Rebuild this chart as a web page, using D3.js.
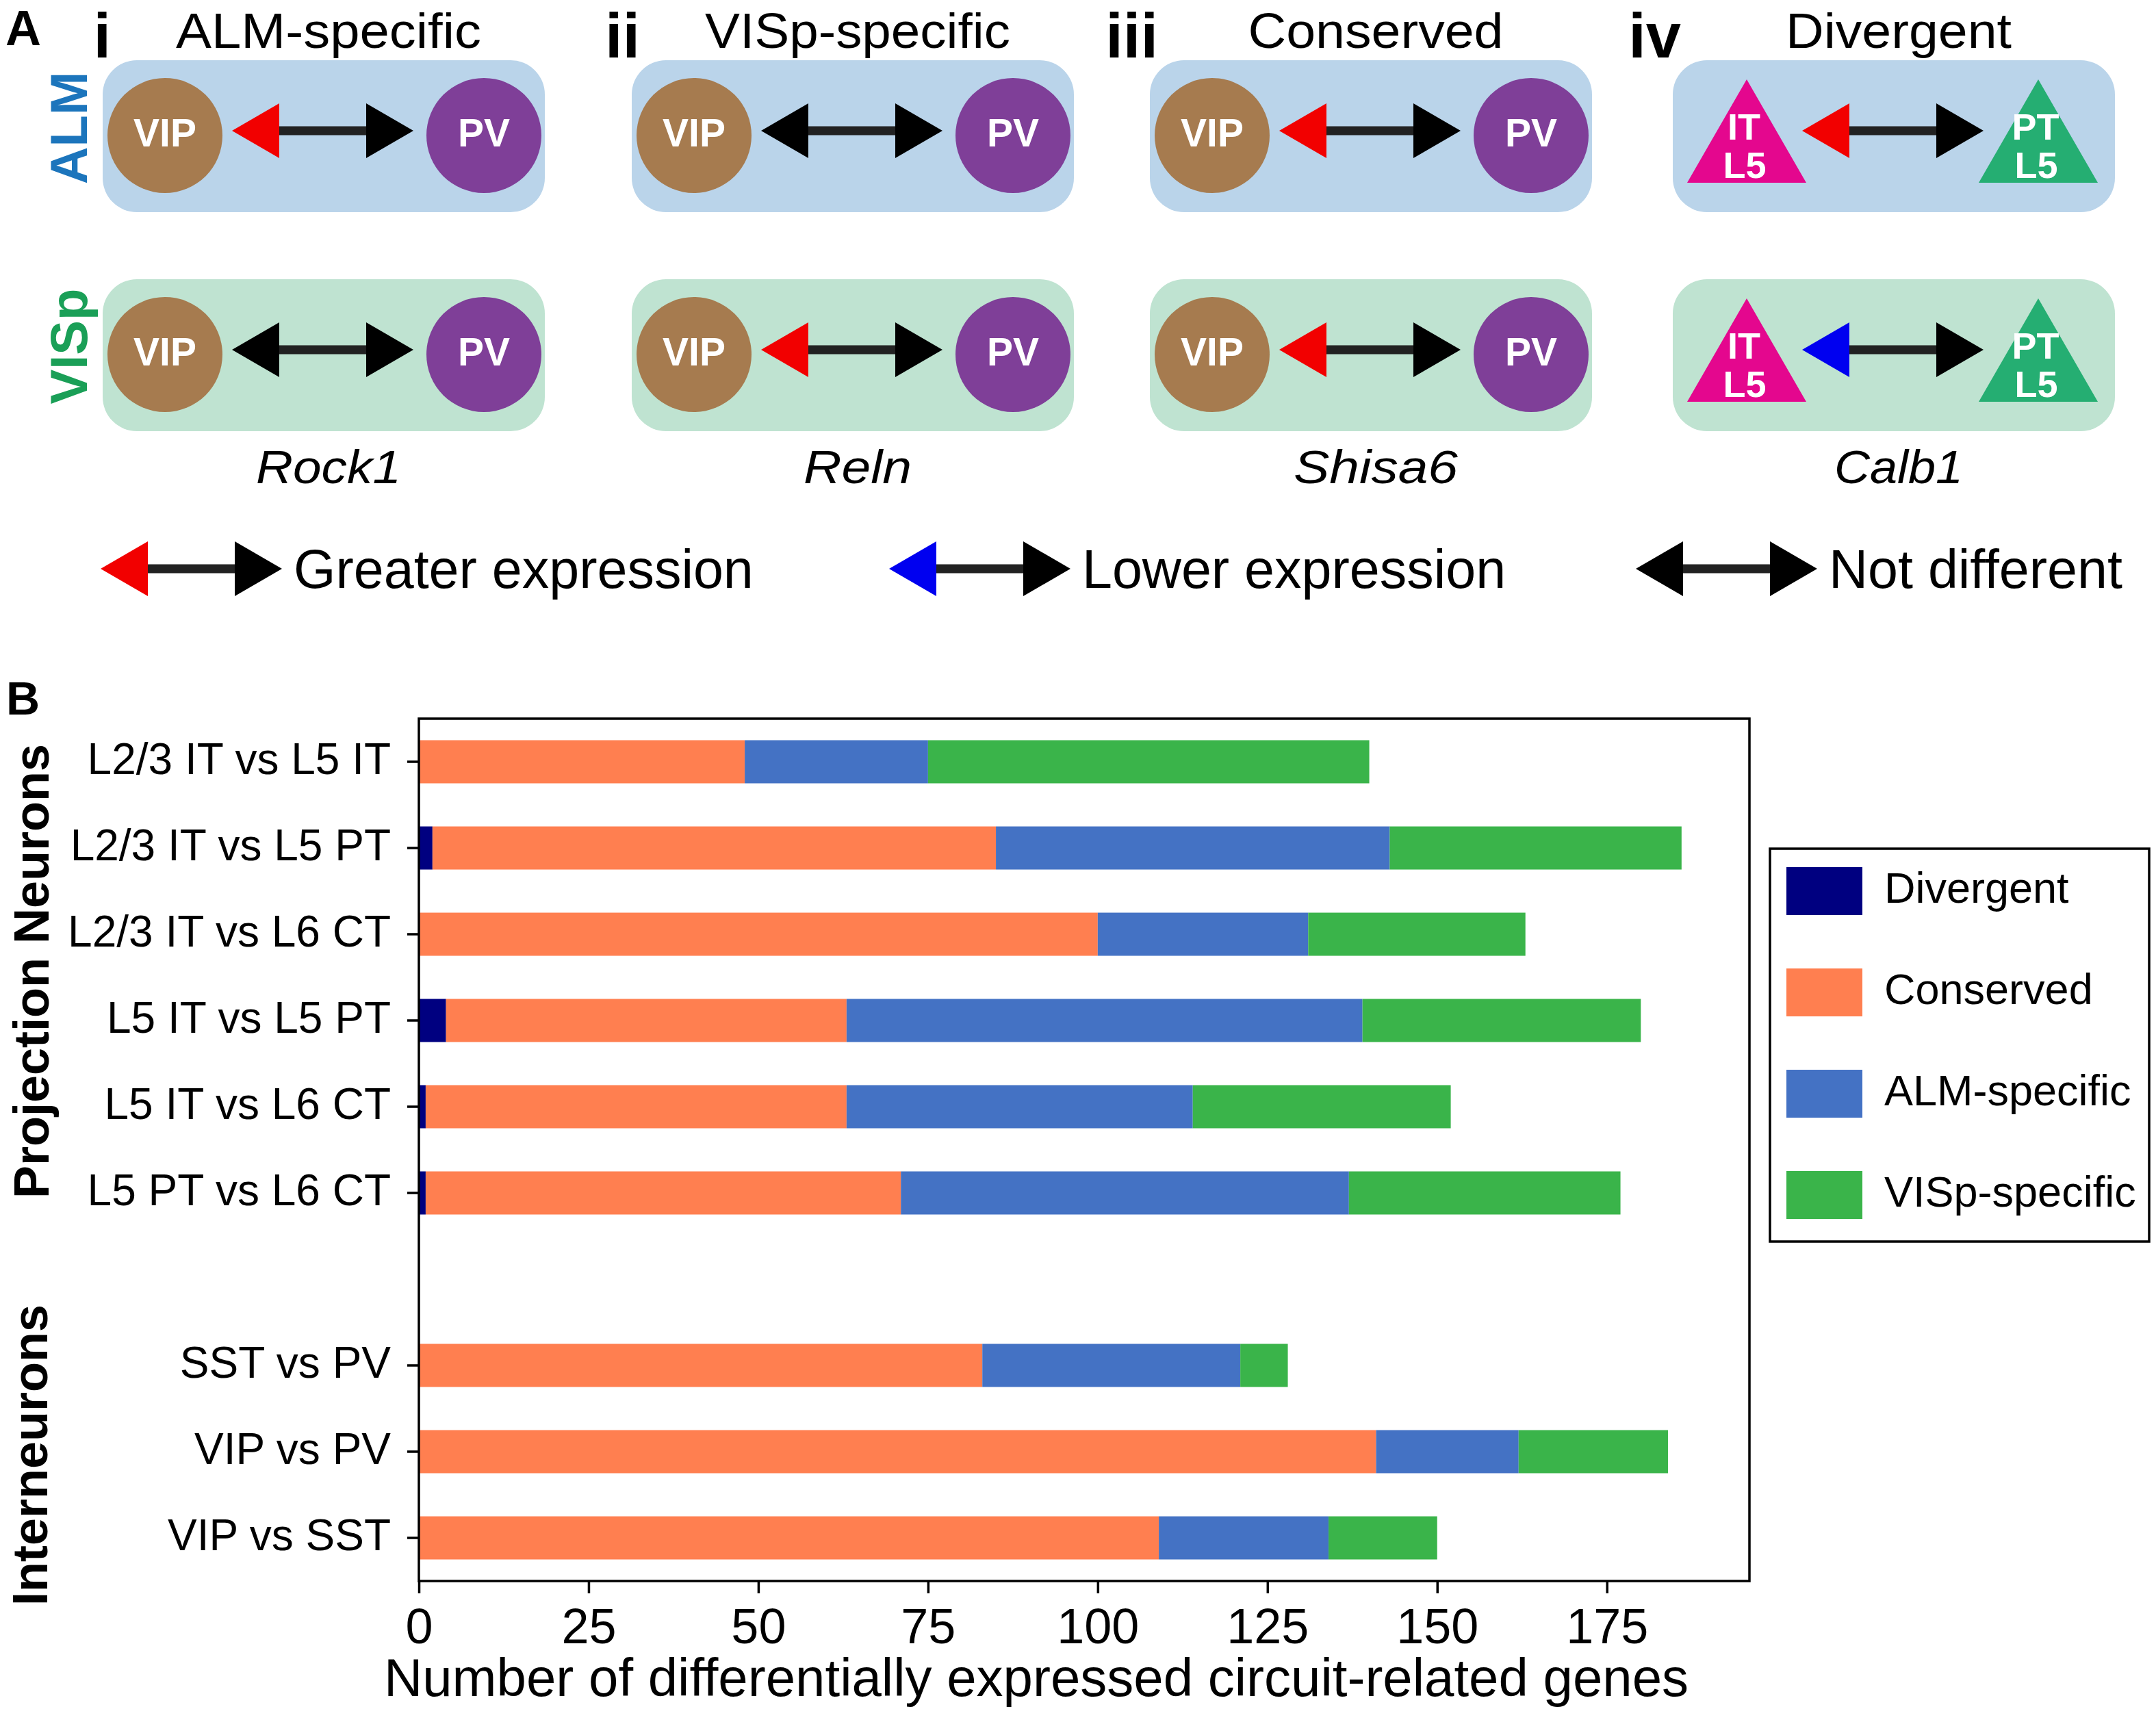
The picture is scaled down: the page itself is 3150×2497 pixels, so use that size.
<!DOCTYPE html>
<html>
<head>
<meta charset="utf-8">
<script src="https://cdn.jsdelivr.net/npm/d3@7"></script>
<style>
body{margin:0;background:#fff}
svg{display:block}
text{font-family:"Liberation Sans",Arial,Helvetica,sans-serif}
</style>
</head>
<body>
<svg id="fig" width="3150" height="2497"></svg>
<script>
// ---------- panel B data ----------
var projectionPairs = ["L2/3 IT vs L5 IT","L2/3 IT vs L5 PT","L2/3 IT vs L6 CT","L5 IT vs L5 PT","L5 IT vs L6 CT","L5 PT vs L6 CT"];
var interneuronPairs = ["SST vs PV","VIP vs PV","VIP vs SST"];
var divergent    = [0, 2, 0, 4, 1, 1, 0, 0, 0];
var conserved    = [48, 83, 100, 59, 62, 70, 83, 141, 109];
var almSpecific  = [27, 58, 31, 76, 51, 66, 38, 21, 25];
var vispSpecific = [65, 43, 32, 41, 38, 40, 7, 22, 16];
var seriesNames  = ["Divergent","Conserved","ALM-specific","VISp-specific"];
var seriesColors = ["#000080","#FF7F50","#4472C4","#3AB44A"];
var xTicks = [0, 25, 50, 75, 100, 125, 150, 175];

// ---------- panel A data ----------
var numerals   = ["i","ii","iii","iv"];
var titles     = ["ALM-specific","VISp-specific","Conserved","Divergent"];
var geneNames  = ["Rock1","Reln","Shisa6","Calb1"];
var cellTypes  = [["VIP","PV"],["VIP","PV"],["VIP","PV"],["IT L5","PT L5"]];
var almArrows  = ["greater","same","greater","greater"];
var vispArrows = ["same","greater","greater","lower"];
var arrowKinds = ["greater","lower","same"];
var arrowLabels = ["Greater expression","Lower expression","Not different"];

var headColor = {greater:"#F20000", lower:"#0000F0", same:"#000000"};

var svg = d3.select("#fig");
svg.append("rect").attr("width",3150).attr("height",2497).attr("fill","#fff");

// ================= panel A =================
var A = svg.append("g");
A.append("text").attr("x",8).attr("y",66).attr("font-size",72).attr("font-weight","bold").text("A");

var boxLeft = [150, 923, 1680, 2444];
var boxW = 646, boxH = 222, rowTops = [88, 408];
var titleW = [446, 446, 373, 330];
var geneW = [212, 158, 240, 188];

// row labels
A.append("text").attr("transform","translate(127,187) rotate(-90)").attr("text-anchor","middle")
  .attr("font-size",76).attr("font-weight","bold").attr("fill","#1C75BC").text("ALM");
A.append("text").attr("transform","translate(127,506) rotate(-90)").attr("text-anchor","middle")
  .attr("font-size",76).attr("font-weight","bold").attr("fill","#1A9F57").text("VISp");

function drawArrow(g, xl, xr, yc, kind){
  var hl = 69, hh = 40;
  g.append("rect").attr("x",xl+hl-2).attr("y",yc-6.5).attr("width",xr-xl-2*hl+4).attr("height",13).attr("fill","#222");
  g.append("path").attr("d","M"+xl+","+yc+"L"+(xl+hl)+","+(yc-hh)+"L"+(xl+hl)+","+(yc+hh)+"Z").attr("fill",headColor[kind]);
  g.append("path").attr("d","M"+xr+","+yc+"L"+(xr-hl)+","+(yc-hh)+"L"+(xr-hl)+","+(yc+hh)+"Z").attr("fill","#000");
}

function drawCell(g, type, cx, top, color){
  if(type.indexOf(" ")<0){
    g.append("circle").attr("cx",cx).attr("cy",top+110).attr("r",84).attr("fill",color);
    g.append("text").attr("x",cx).attr("y",top+126).attr("text-anchor","middle").attr("font-size",57)
      .attr("font-weight","bold").attr("fill","#fff").text(type);
  } else {
    g.append("path").attr("d","M"+cx+","+(top+28)+"L"+(cx+87)+","+(top+179)+"L"+(cx-87)+","+(top+179)+"Z").attr("fill",color);
    var parts = type.split(" ");
    g.append("text").attr("x",cx-4).attr("y",top+116).attr("text-anchor","middle").attr("font-size",54)
      .attr("font-weight","bold").attr("fill","#fff").text(parts[0]);
    g.append("text").attr("x",cx-3).attr("y",top+172).attr("text-anchor","middle").attr("font-size",54)
      .attr("font-weight","bold").attr("fill","#fff").text(parts[1]);
  }
}

numerals.forEach(function(n,i){
  var bl = boxLeft[i];
  A.append("text").attr("x",bl+12).attr("y",84).attr("text-anchor","end").attr("font-size",92)
    .attr("font-weight","bold").text(n);
  A.append("text").attr("x",bl+330).attr("y",70).attr("text-anchor","middle").attr("font-size",72)
    .attr("textLength",titleW[i]).attr("lengthAdjust","spacingAndGlyphs").text(titles[i]);
  A.append("text").attr("x",bl+330).attr("y",706).attr("text-anchor","middle").attr("font-size",68)
    .attr("font-style","italic").attr("textLength",geneW[i]).attr("lengthAdjust","spacingAndGlyphs").text(geneNames[i]);

  [almArrows[i], vispArrows[i]].forEach(function(kind,r){
    var top = rowTops[r];
    A.append("rect").attr("x",bl).attr("y",top).attr("width",boxW).attr("height",boxH)
      .attr("rx",50).attr("ry",50).attr("fill", r==0 ? "#BAD4EA" : "#BFE3D1");
    var tri = cellTypes[i][0].indexOf(" ")>=0;
    var c1 = tri ? bl+108 : bl+91, c2 = tri ? bl+534 : bl+557;
    drawCell(A, cellTypes[i][0], c1, top, tri ? "#E4078E" : "#A67B4F");
    drawCell(A, cellTypes[i][1], c2, top, tri ? "#25AE72" : "#7F3F98");
    drawArrow(A, bl+189, bl+454, top+103, kind);
  });
});

// arrow legend
var legX = [147, 1299, 2390];
arrowKinds.forEach(function(k,i){
  drawArrow(A, legX[i], legX[i]+265, 831, k);
  A.append("text").attr("x",legX[i]+282).attr("y",859).attr("font-size",79).text(arrowLabels[i]);
});

// ================= panel B =================
var B = svg.append("g");
B.append("text").attr("x",9).attr("y",1044).attr("font-size",68).attr("font-weight","bold").text("B");

var gap = "__gap__";
var slots = projectionPairs.concat([gap]).concat(interneuronPairs);
var pairs = projectionPairs.concat(interneuronPairs);
var rows = pairs.map(function(p,i){
  return {pair:p, "Divergent":divergent[i], "Conserved":conserved[i], "ALM-specific":almSpecific[i], "VISp-specific":vispSpecific[i]};
});

var x = d3.scaleLinear().domain([0,196]).range([612,2556]);
var y = d3.scaleBand().domain(slots).range([1050,2310]).paddingInner(0.5).paddingOuter(0.25);
var color = d3.scaleOrdinal().domain(seriesNames).range(seriesColors);

var stacked = d3.stack().keys(seriesNames)(rows);
B.selectAll("g.series").data(stacked).enter().append("g").attr("class","series")
  .attr("fill",function(d){return color(d.key);})
  .selectAll("rect").data(function(d){return d;}).enter().append("rect")
  .attr("x",function(d){return x(d[0]);})
  .attr("width",function(d){return x(d[1])-x(d[0]);})
  .attr("y",function(d){return y(d.data.pair);})
  .attr("height",y.bandwidth());

// frame
B.append("rect").attr("x",612).attr("y",1050).attr("width",2556-612).attr("height",2310-1050)
  .attr("fill","none").attr("stroke","#000").attr("stroke-width",3.5);

var xAxis = B.append("g").attr("transform","translate(0,2310)")
  .call(d3.axisBottom(x).tickValues(xTicks).tickSize(18).tickSizeOuter(0).tickPadding(22));
var yAxis = B.append("g").attr("transform","translate(612,0)")
  .call(d3.axisLeft(y).tickValues(pairs).tickSize(17).tickSizeOuter(0).tickPadding(24));
[xAxis, yAxis].forEach(function(a){
  a.select(".domain").remove();
  a.selectAll(".tick line").attr("stroke","#000").attr("stroke-width",3.5);
  a.selectAll(".tick text").attr("fill","#000").style("font-family","'Liberation Sans',Arial,sans-serif");
});
xAxis.selectAll(".tick text").attr("font-size",72);
yAxis.selectAll(".tick text").attr("font-size",64).attr("dy","0.28em");

B.append("text").attr("x",1514).attr("y",2478).attr("text-anchor","middle").attr("font-size",78)
  .text("Number of differentially expressed circuit-related genes");

B.append("text").attr("transform","translate(71,1419) rotate(-90)").attr("text-anchor","middle")
  .attr("font-size",72).attr("font-weight","bold").text("Projection Neurons");
B.append("text").attr("transform","translate(69,2126) rotate(-90)").attr("text-anchor","middle")
  .attr("font-size",72).attr("font-weight","bold").text("Interneurons");

// legend
var leg = B.append("g");
leg.append("rect").attr("x",2586).attr("y",1240).attr("width",554).attr("height",574)
  .attr("fill","#fff").attr("stroke","#000").attr("stroke-width",3.5);
seriesNames.forEach(function(s,i){
  var yy = 1267 + i*148;
  leg.append("rect").attr("x",2610).attr("y",yy).attr("width",111).attr("height",70).attr("fill",color(s));
  leg.append("text").attr("x",2753).attr("y",yy+52).attr("font-size",63).text(s);
});
</script>
</body>
</html>
